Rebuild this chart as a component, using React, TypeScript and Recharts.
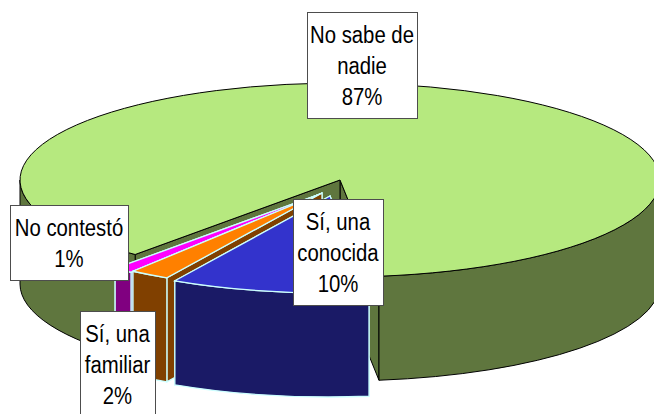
import React from 'react';
import { Pie, PieChart } from 'recharts';

// slices run counter-clockwise from the front of the pie, like the original
const categories = ['No sabe de nadie', 'No contestó', 'Sí, una familiar', 'Sí, una conocida'];
const percents = [87, 1, 2, 10];
const labelLines = [['No sabe de', 'nadie'], ['No contestó'], ['Sí, una', 'familiar'], ['Sí, una', 'conocida']];

const topColors = ['#b6e97f', '#ff00ff', '#ff8000', '#3333cc'];
const wallColors = ['#5f763e', '#800080', '#804000', '#1a1a66'];
const edgeColors = ['#000000', '#ccffff', '#ccffff', '#ccffff'];

// how far each slice is pulled out of the pie
const explodeX = [0, -20, -18, -10];
const explodeY = [0, 14, 13, 16];

// label boxes: left, top, width, height, first baseline
const labelBoxes = [
  [307, 12, 110, 106, 43],
  [10, 205, 118, 75, 236],
  [80, 311, 75, 110, 342],
  [293, 199, 90, 106, 230],
];

const SQUASH = 0.303;
const DEPTH = 104;
const LINE_HEIGHT = 31;

const chartData = categories.map((name, i) => ({ name, value: percents[i] }));

const SliceShape = (props: any) => {
  const { cx, cy, outerRadius, startAngle, endAngle, index } = props;
  const ox = cx + explodeX[index];
  const oy = cy + explodeY[index];
  const rx = outerRadius;
  const ry = outerRadius * SQUASH;

  const pt = (deg: number, drop = 0): string => {
    const a = (deg * Math.PI) / 180;
    return `${ox + rx * Math.cos(a)} ${oy - ry * Math.sin(a) + drop}`;
  };

  const cutFace = (deg: number) =>
    `M${ox} ${oy}L${pt(deg)}L${pt(deg, DEPTH)}L${ox} ${oy + DEPTH}Z`;

  // only the front half of the rim can be seen
  const rims: [number, number][] = [];
  [-360, 0].forEach((shift) => {
    const from = Math.max(startAngle, 180 + shift);
    const to = Math.min(endAngle, 360 + shift);
    if (to > from) rims.push([from, to]);
  });

  const rimPath = ([from, to]: [number, number]) =>
    `M${pt(from)}A${rx} ${ry} 0 0 0 ${pt(to)}L${pt(to, DEPTH)}A${rx} ${ry} 0 0 1 ${pt(from, DEPTH)}Z`;

  const large = endAngle - startAngle > 180 ? 1 : 0;
  const top = `M${ox} ${oy}L${pt(startAngle)}A${rx} ${ry} 0 ${large} 0 ${pt(endAngle)}Z`;

  const wall = wallColors[index];
  const edge = edgeColors[index];
  const edgeWidth = index === 0 ? 1 : 1.3;

  return (
    <g>
      <path d={cutFace(startAngle)} fill={wall} stroke={edge} strokeWidth={edgeWidth} />
      <path d={cutFace(endAngle)} fill={wall} stroke={edge} strokeWidth={edgeWidth} />
      {rims.map((rim, i) => (
        <path key={i} d={rimPath(rim)} fill={wall} stroke={edge} strokeWidth={edgeWidth} />
      ))}
      <path d={top} fill={topColors[index]} stroke={edge} strokeWidth={edgeWidth} />
    </g>
  );
};

const renderLabel = (props: any) => {
  const { index } = props;
  const [x, y, w, h, baseline] = labelBoxes[index];
  const lines = [...labelLines[index], `${percents[index]}%`];
  const mid = x + w / 2;
  return (
    <g key={index}>
      <rect x={x + 0.5} y={y + 0.5} width={w} height={h} fill="#ffffff" stroke="#4d4d4d" strokeWidth={1} />
      {lines.map((line, i) => (
        <text
          key={i}
          transform={`translate(${mid} ${baseline + i * LINE_HEIGHT}) scale(0.83 1)`}
          textAnchor="middle"
          fontFamily="'Liberation Sans', Arial, sans-serif"
          fontSize={24.5}
          fill="#000000"
        >
          {line}
        </text>
      ))}
    </g>
  );
};

export default function App() {
  return (
    <div style={{ position: 'absolute', left: 0, top: 0, width: 654, height: 414, overflow: 'hidden', background: '#ffffff' }}>
      <PieChart width={654} height={414} margin={{ top: 0, right: 0, bottom: 0, left: 0 }}>
        <Pie
          data={chartData}
          dataKey="value"
          nameKey="name"
          cx={340}
          cy={180}
          innerRadius={0}
          outerRadius={320}
          startAngle={-83}
          endAngle={277}
          paddingAngle={0}
          shape={SliceShape}
          label={renderLabel}
          labelLine={false}
          isAnimationActive={false}
        />
      </PieChart>
    </div>
  );
}
